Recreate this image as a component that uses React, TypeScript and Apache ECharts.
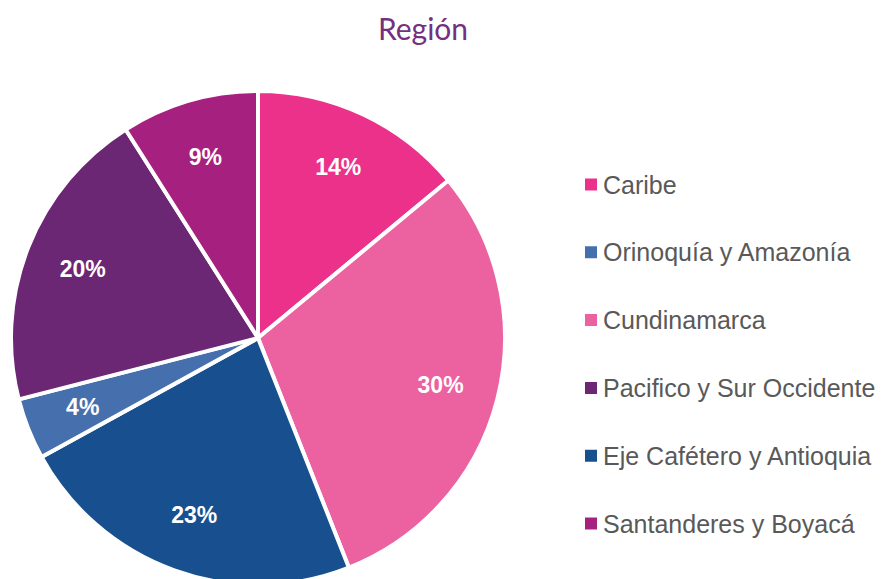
import React, { useEffect, useRef } from "react";
import * as echarts from "echarts";

const titleText = "Región";
const categories = [
  "Caribe",
  "Cundinamarca",
  "Eje Cafétero y Antioquia",
  "Orinoquía y Amazonía",
  "Pacifico y Sur Occidente",
  "Santanderes y Boyacá",
];
const values = [14, 30, 23, 4, 20, 9];
const colors = ["#EB318A", "#EC619F", "#174F8F", "#4670AD", "#6B2774", "#A62080"];
const legendOrder = [
  "Caribe",
  "Orinoquía y Amazonía",
  "Cundinamarca",
  "Pacifico y Sur Occidente",
  "Eje Cafétero y Antioquia",
  "Santanderes y Boyacá",
];

export default function App() {
  const ref = useRef<HTMLDivElement>(null);
  useEffect(() => {
    if (!ref.current) return;
    const chart = echarts.init(ref.current, null, { renderer: "svg" });
    const data = categories.map((name, i) => ({
      name,
      value: values[i],
      itemStyle: { color: colors[i] },
    }));
    chart.setOption({
      animation: false,
      title: {
        text: titleText,
        left: 418,
        top: 8,
        textAlign: "center",
        textStyle: {
          color: "#75307F",
          fontSize: 30,
          fontWeight: "normal",
          fontFamily: "Lato",
        },
      },
      legend: {
        orient: "vertical",
        left: 578,
        top: 167,
        data: legendOrder,
        icon: "rect",
        itemWidth: 14,
        itemHeight: 14,
        itemGap: 42.8,
        textStyle: {
          color: "#595959",
          fontSize: 25,
          fontFamily: "Liberation Sans",
        },
      },
      series: [
        {
          type: "pie",
          center: [258, 338],
          radius: [0, 247],
          startAngle: 90,
          clockwise: true,
          data,
          itemStyle: { borderColor: "#ffffff", borderWidth: 4 },
          label: { show: false },
          labelLine: { show: false },
          emphasis: { disabled: true },
        },
        {
          type: "pie",
          center: [258, 338],
          radius: [124, 247],
          startAngle: 90,
          clockwise: true,
          silent: true,
          data: categories.map((name, i) => ({ name, value: values[i] })),
          itemStyle: { color: "rgba(0,0,0,0)", borderWidth: 0 },
          label: {
            show: true,
            position: "inside",
            formatter: "{c}%",
            color: "#ffffff",
            fontSize: 23,
            fontWeight: "bold",
            fontFamily: "Liberation Sans",
          },
          labelLine: { show: false },
          emphasis: { disabled: true },
        },
      ],
    });
    return () => chart.dispose();
  }, []);
  return (
    <div
      ref={ref}
      style={{ position: "fixed", left: 0, top: 0, width: 892, height: 579, background: "#fff" }}
    />
  );
}
